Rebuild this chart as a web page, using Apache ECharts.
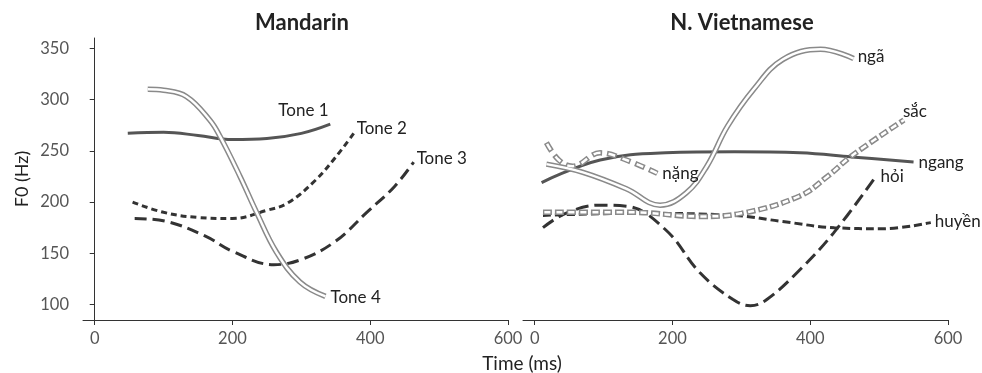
<!DOCTYPE html>
<html>
<head>
<meta charset="utf-8">
<script src="https://cdn.jsdelivr.net/npm/echarts@6/dist/echarts.min.js"></script>
<style>
  html, body { margin: 0; padding: 0; background: #fff; }
  #chart { width: 982px; height: 373px; }
</style>
</head>
<body>
<div id="chart"></div>
<script>
const xTicks = [0, 200, 400, 600]
const yTicks = [100, 150, 200, 250, 300, 350]

// Mandarin, [time ms, F0 Hz]
const tone1 = [[48, 267], [100, 268], [150, 265], [200, 261], [250, 262], [300, 267], [342, 276]]
const tone2 = [[55, 200], [100, 190], [150, 185], [200, 184], [250, 192], [280, 199], [320, 221], [350, 244], [376, 267]]
const tone3 = [[58, 184], [105, 181], [160, 167], [200, 152], [260, 139], [300, 144], [350, 162], [395, 190], [435, 215], [463, 239]]
const tone4 = [[77, 310], [100, 309], [133, 303], [167, 280], [182, 264], [211, 225], [235, 190], [264, 151], [298, 122], [335, 108]]

// N. Vietnamese
const ngang = [[10, 219], [95, 241], [190, 248], [290, 249], [385, 248], [460, 244], [550, 239]]
const nga = [[17, 237], [70, 229], [133, 213], [182, 197], [220, 209], [250, 235], [280, 274], [318, 310], [360, 339], [415, 349], [463, 340]]
const nang = [[17, 258], [35, 241], [55, 235], [95, 248], [133, 241], [178, 228]]
const sac = [[12, 190], [140, 190], [240, 186], [300, 189], [385, 206], [425, 225], [460, 245], [536, 280]]
const huyen = [[12, 187], [145, 189], [290, 187], [360, 181], [435, 175], [505, 174], [575, 180]]
const hoi = [[12, 175], [45, 189], [95, 197], [133, 196], [190, 173], [240, 131], [288, 105], [313, 99], [337, 105], [385, 134], [434, 170], [492, 222]]

const font = 'Lato'
const labelStyle = { color: '#222', fontSize: 17, fontFamily: font, distance: 0 }

function line(name, data, idx, lineStyle, offset, z) {
  const s = {
    name,
    type: 'line',
    xAxisIndex: idx,
    yAxisIndex: idx,
    data,
    smooth: 0.4,
    showSymbol: false,
    symbol: 'none',
    lineStyle,
    z: z || 2,
  }
  if (offset) {
    s.endLabel = { show: true, formatter: name, offset, ...labelStyle }
  }
  return s
}

// two lines on the same path: grey outline below, white core on top
function hollow(name, data, idx, offset, dashed) {
  const outer = dashed
    ? { color: '#8a8a8a', width: 5.5, type: dashed.outer, dashOffset: 0 }
    : { color: '#8a8a8a', width: 5.5 }
  const inner = dashed
    ? { color: '#fff', width: 2.5, type: dashed.inner, dashOffset: -1.5 }
    : { color: '#fff', width: 2.5 }
  return [
    line(name + '_o', data, idx, outer, null, 5),
    line(name, data, idx, inner, offset, 6),
  ]
}

const xAxisBase = {
  type: 'value',
  min: -17,
  max: 600,
  axisLine: { show: true, lineStyle: { color: '#333', width: 1 } },
  axisTick: { show: true, length: 5, customValues: xTicks, lineStyle: { color: '#333' } },
  axisLabel: { customValues: xTicks, color: '#555', fontSize: 16.5, fontFamily: font, margin: 10 },
  splitLine: { show: false },
}
const yAxisBase = {
  type: 'value',
  min: 85,
  max: 360,
  splitLine: { show: false },
}

const myChart = echarts.init(document.getElementById('chart'))
const titleStyle = { fontSize: 22, fontWeight: 'bold', fontFamily: font, color: '#222' }
const option = {
  animation: false,
  title: [
    { text: 'Mandarin', left: 297, top: 7, textAlign: 'center', textStyle: titleStyle },
    { text: 'N. Vietnamese', left: 737, top: 7, textAlign: 'center', textStyle: titleStyle },
    { text: 'Time (ms)', left: 517, top: 349, textAlign: 'center', textStyle: { fontSize: 19, fontWeight: 'normal', fontFamily: font, color: '#222' } },
  ],
  grid: [
    { left: 83, top: 38, width: 425, height: 282 },
    { left: 523, top: 38, width: 425, height: 282 },
  ],
  xAxis: [
    { ...xAxisBase, gridIndex: 0 },
    { ...xAxisBase, gridIndex: 1 },
  ],
  yAxis: [
    {
      ...yAxisBase,
      gridIndex: 0,
      name: 'F0 (Hz)',
      nameLocation: 'middle',
      nameRotate: 90,
      nameGap: 52,
      nameTextStyle: { fontSize: 18, fontFamily: font, color: '#222' },
      axisLine: { show: true, lineStyle: { color: '#333', width: 1 } },
      axisTick: { show: true, length: 5, customValues: yTicks, lineStyle: { color: '#333' } },
      axisLabel: { customValues: yTicks, color: '#555', fontSize: 16.5, fontFamily: font, margin: 14 },
    },
    {
      ...yAxisBase,
      gridIndex: 1,
      axisLine: { show: false },
      axisTick: { show: false },
      axisLabel: { show: false },
    },
  ],
  series: [
    line('Tone 1', tone1, 0, { color: '#555', width: 3 }, [-52, -14]),
    line('Tone 2', tone2, 0, { color: '#333', width: 3, type: [6, 4] }, [3, -5]),
    line('Tone 3', tone3, 0, { color: '#333', width: 3, type: [12, 6] }, [3, -4]),
    ...hollow('Tone 4', tone4, 0, [5, 1]),

    line('ngang', ngang, 1, { color: '#555', width: 3 }, [5, 0]),
    line('huyền', huyen, 1, { color: '#333', width: 3, type: [8, 4] }, [4, -1]),
    line('hỏi', hoi, 1, { color: '#333', width: 3, type: [13, 6] }, [7, -3]),
    ...hollow('sắc', sac, 1, [-1, -9], { outer: [9, 3], inner: [6, 6] }),
    ...hollow('nặng', nang, 1, [5, 0], { outer: [10, 5], inner: [7, 8] }),
    ...hollow('ngã', nga, 1, [4, -2]),
  ],
}

myChart.setOption(option)
</script>
</body>
</html>
